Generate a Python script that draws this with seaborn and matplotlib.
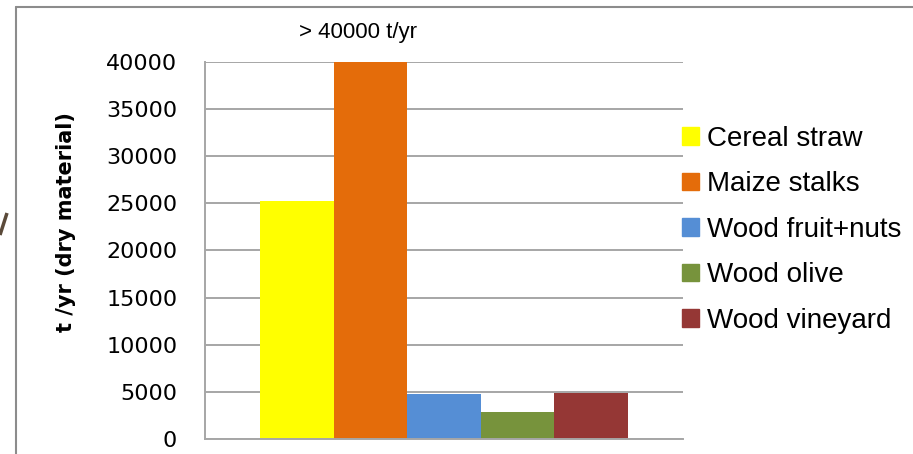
import pandas as pd
import matplotlib
matplotlib.use('Agg')
import matplotlib.pyplot as plt
import seaborn as sns
from matplotlib.lines import Line2D

# Data
residues = ['Cereal straw', 'Maize stalks', 'Wood fruit+nuts', 'Wood olive', 'Wood vineyard']
tonnes = [25300, 40000, 4800, 2900, 4900]
colors = ['#FFFF00', '#E46C0A', '#558ED5', '#77933C', '#953735']
yticks = [0, 5000, 10000, 15000, 20000, 25000, 30000, 35000, 40000]

data = pd.DataFrame({'group': [''] * len(residues), 'residue': residues, 'tonnes': tonnes})

sns.set_style('white')
plt.rcParams['font.family'] = ['DejaVu Sans']
plt.rcParams['text.color'] = 'black'

fig = plt.figure(figsize=(9.13, 4.54), dpi=100)
ax = fig.add_axes([205 / 913, 1 - 439 / 454, 478 / 913, 377 / 454])

sns.barplot(data=data, x='group', y='tonnes', hue='residue', hue_order=residues,
            palette=colors, width=0.77, linewidth=0, saturation=1, ax=ax, legend=False)

ax.set_xlim(-0.5, 0.5)
ax.set_ylim(0, 40000)
ax.set_yticks(yticks)
ax.set_yticklabels([str(t) for t in yticks], fontsize=16, color='black')
ax.set_xticks([])
ax.set_xlabel('')
ax.tick_params(axis='y', length=0, pad=20)
ax.yaxis.grid(True, color='#a6a6a6', linewidth=1.4)
ax.set_axisbelow(True)
for side in ['top', 'right']:
    ax.spines[side].set_visible(False)
for side in ['left', 'bottom']:
    ax.spines[side].set_color('#a6a6a6')
    ax.spines[side].set_linewidth(1.4)

ax.set_ylabel('t /yr (dry material)', fontsize=15, fontweight='bold', va='center', color='black')
ax.yaxis.set_label_coords(-0.291, 0.576)

ax.text(-0.18, 43100, '> 40000 t/yr', ha='center', va='center', fontsize=16,
        family='Liberation Sans', color='black', clip_on=False)

handles = [plt.Rectangle((0, 0), 1, 1, color=c) for c in colors]
leg = fig.legend(handles, residues, loc='upper left', bbox_to_anchor=(682 / 913, 1 - 126 / 454),
                 frameon=False, prop={'family': 'Liberation Sans', 'size': 20},
                 handlelength=0.6, handleheight=0.6, handletextpad=0.3, labelspacing=0.7,
                 borderpad=0, borderaxespad=0)
for t in leg.get_texts():
    t.set_color('black')

# slide frame and the stroke of a cut-off letter at the left edge
fig.add_artist(Line2D([16 / 913, 16 / 913], [0, 1 - 7 / 454], color='#8c8c8c', linewidth=1.5))
fig.add_artist(Line2D([16 / 913, 1], [1 - 7 / 454, 1 - 7 / 454], color='#8c8c8c', linewidth=1.5))
fig.add_artist(Line2D([0, 7 / 913], [1 - 235 / 454, 1 - 213 / 454], color='#5b4a3a',
                      linewidth=2.5, solid_capstyle='butt'))

fig.savefig('out.png', dpi=100)
